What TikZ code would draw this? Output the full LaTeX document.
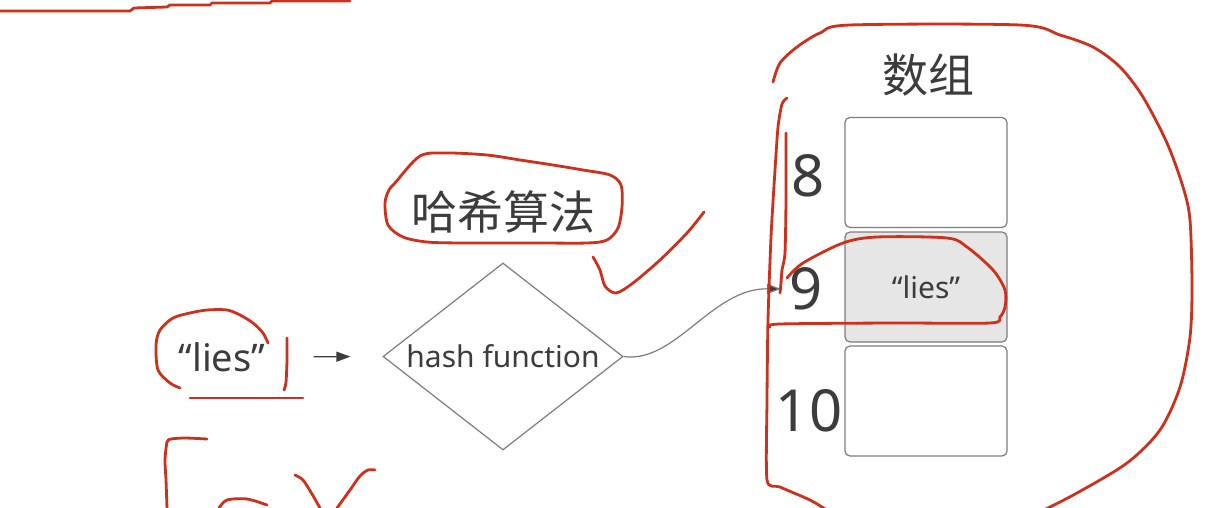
\documentclass[tikz,border=0pt]{standalone}
\usepackage{fontspec}
\setmainfont{Noto Sans}
\newfontfamily\cjk{Noto Sans CJK SC}
\usetikzlibrary{shapes.geometric,arrows.meta}
\definecolor{inkred}{RGB}{206,48,28}
\definecolor{txtgray}{RGB}{60,60,60}
\definecolor{linegray}{RGB}{125,125,125}
\definecolor{cellfill}{RGB}{230,230,230}
\tikzset{
  ink/.style={draw=inkred, line width=1.4pt, line cap=round, line join=round},
  cell/.style={draw=linegray, line width=0.6pt, rounded corners=2.5pt, minimum width=81pt, minimum height=55pt, inner sep=0pt},
  idx/.style={text=txtgray, inner sep=1pt, font=\fontsize{29}{30}\selectfont},
  lbl/.style={text=txtgray, inner sep=2pt},
  conn/.style={draw=linegray, line width=0.6pt, -{Triangle[length=7pt,width=5pt,fill=txtgray]}},
}
\begin{document}
\begin{tikzpicture}[x=0.5pt,y=-0.5pt]
\useasboundingbox (0,0) rectangle (1216,508);
\fill[white] (0,0) rectangle (1216,508);

% ---- diagram ----
\node[lbl, font=\fontsize{19}{20}\selectfont] (lies) at (222,357) {“lies”};
\node[diamond, draw=linegray, line width=0.6pt, minimum width=120pt, minimum height=93.5pt, inner sep=0pt] (hash) at (503,356.5) {};
\node[lbl, font=\fontsize{15}{16}\selectfont] (hashtxt) at (hash.center) {hash function};
\node[lbl, font=\cjk\fontsize{23}{24}\selectfont] (suanfa) at (503,212) {哈希算法};
\node[lbl, font=\cjk\fontsize{23}{24}\selectfont] (shuzu) at (928,75) {数组};

\node[cell] (c8) at (926,172.5) {};
\node[cell, fill=cellfill] (c9) at (926,287) {};
\node[cell] (c10) at (926,401) {};
\node[lbl, font=\fontsize{15}{16}\selectfont] (lies2) at (c9.center) {“lies”};

\node[idx] (i8) at (808,176) {8};
\node[idx] (i9) at (806,289) {9};
\node[idx] (i10) at (809,411) {10};

\draw[conn, draw=txtgray, shorten <=22pt, shorten >=16pt] (lies.east) -- (hash.west);
\draw[conn] (hash.east) .. controls (675,364) and (712,288) .. ([xshift=-3pt]i9.west);

% ---- red hand annotations ----
\draw[ink] (0,11) -- (130,11) -- (134,8) -- (167,7) -- (170,5) -- (210,5) -- (212,3) -- (270,3) -- (272,1) -- (350,1);
\draw[ink] plot[smooth, tension=0.5] coordinates {(180,388) (170,383) (158,370) (156,345) (160,330) (173,318) (190,313) (207,310) (227,310) (240,315) (253,323) (263,333) (268,343)};
\draw[ink] plot[smooth, tension=0.5] coordinates {(287,338) (287,360) (286,382) (284,390)};
\draw[ink] (190,398) -- (303,398);
\draw[ink] plot[smooth, tension=0.4] coordinates {(167,508) (166,480) (165,460) (167,442) (171,439) (185,438) (207,439)};
\draw[ink] plot[smooth, tension=0.5] coordinates {(219,508) (227,500) (247,499) (267,505)};
\draw[ink] plot[smooth, tension=0.5] coordinates {(295,475) (303,480) (312,494) (320,508)};
\draw[ink] plot[smooth, tension=0.5] coordinates {(337,508) (350,490) (360,476) (368,470) (375,470)};
\draw[ink] plot[smooth cycle, tension=0.5] coordinates {(395,183) (420,156) (447,153) (487,155) (520,160) (553,165) (583,170) (610,175) (621,185) (622,207) (618,228) (607,240) (587,243) (537,243) (463,243) (427,242) (403,237) (388,225) (385,203) (389,190)};
\draw[ink] plot[smooth, tension=0.5] coordinates {(593,257) (600,270) (605,286) (616,293) (633,283) (660,260) (687,233) (704,212)};
\draw[ink] plot[smooth, tension=0.5] coordinates {(773,82) (780,63) (797,47) (820,33) (850,25) (1020,25) (1060,35) (1093,47) (1120,67) (1143,97) (1167,143) (1183,187) (1190,220) (1192,287) (1190,337) (1180,387) (1160,430) (1127,463) (1077,493) (1040,512)};
\draw[ink] plot[smooth, tension=0.4] coordinates {(787,98) (782,104) (778,127) (775,170) (771,237) (768,320) (767,400) (767,480) (780,487) (810,500) (830,512)};
\draw[ink] plot[smooth, tension=0.4] coordinates {(786,133) (786,200) (785,253) (782,270) (781,283) (780,293)};
\draw[ink] plot[smooth, tension=0.5] coordinates {(787,278) (803,263) (843,243) (877,237) (947,238) (967,247) (993,270) (1005,290) (1005,307) (1000,317) (990,323) (893,323) (780,324) (770,327)};
\end{tikzpicture}
\end{document}
